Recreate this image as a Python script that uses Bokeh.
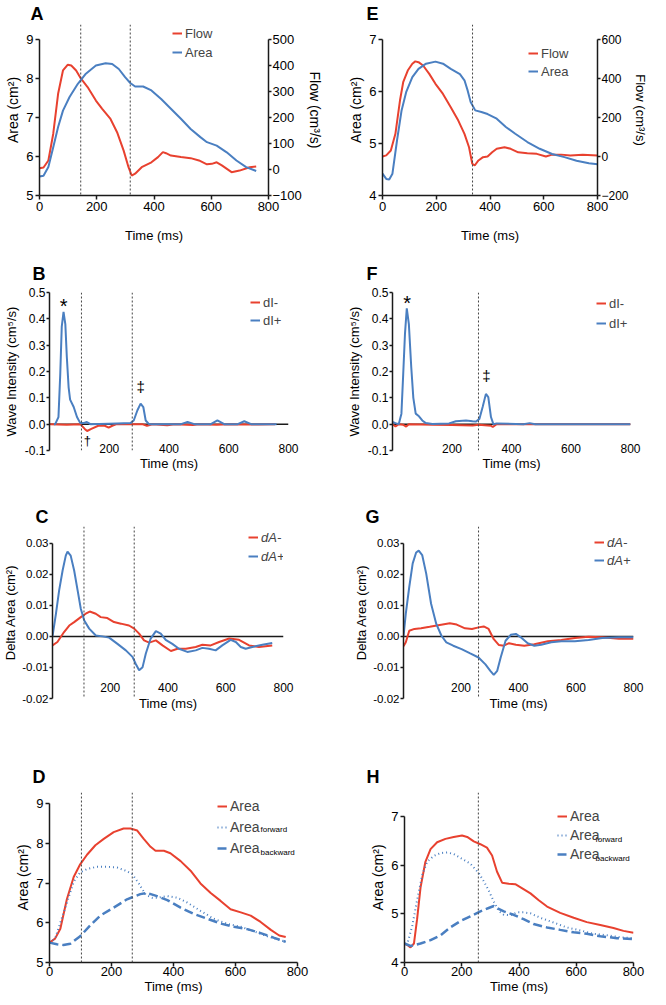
from bokeh.plotting import figure
from bokeh.layouts import column, row
from bokeh.models import (Range1d, LinearAxis, FixedTicker, Span, Legend, LegendItem,
                          Label, NumeralTickFormatter)
from bokeh.embed import file_html
from bokeh.resources import INLINE

RED = "#E8412F"
BLUE = "#4A7FC1"
FONT = "Liberation Sans"
INK = "#1a1a1a"
REF = "#444444"

# ---------------- data ----------------
# Panel A
a_flow_t = [0, 14, 31, 48, 65, 82, 99, 111, 128, 145, 168, 197, 219, 248, 271, 294, 311, 322, 334, 357,
            391, 414, 431, 442, 459, 494, 528, 557, 585, 602, 619, 637, 671, 699, 734, 757]
a_flow = [5, 8, 35, 138, 292, 382, 404, 401, 382, 350, 318, 266, 234, 195, 144, 73, 9, -23, -16, 9,
          28, 48, 67, 63, 54, 48, 44, 35, 20, 22, 28, 16, -10, -4, 9, 12]
a_area_t = [0, 14, 31, 48, 65, 82, 105, 134, 162, 197, 231, 254, 277, 299, 317, 334, 362, 391, 425, 459,
            494, 528, 562, 585, 619, 654, 688, 722, 757]
a_area = [5.49, 5.51, 5.73, 6.24, 6.76, 7.18, 7.53, 7.87, 8.13, 8.34, 8.40, 8.38, 8.25, 8.04, 7.89, 7.80,
          7.80, 7.70, 7.48, 7.23, 6.97, 6.71, 6.50, 6.37, 6.28, 6.11, 5.90, 5.73, 5.63]
a_refs = [144, 317]

# Panel E
e_flow_t = [0, 14, 31, 48, 65, 77, 94, 111, 122, 134, 151, 174, 197, 225, 254, 282, 305, 322, 334, 343,
            357, 374, 391, 408, 425, 454, 477, 505, 539, 574, 608, 631, 665, 699, 745, 800]
e_flow = [0, 6, 31, 117, 288, 382, 442, 477, 489, 485, 468, 425, 374, 322, 254, 185, 117, 48, -37, -46,
          -20, -3, 0, 22, 40, 48, 40, 22, 17, 14, 0, 10, 10, 5, 9, 5]
e_area_t = [0, 14, 25, 37, 54, 71, 88, 111, 134, 162, 197, 225, 254, 288, 305, 317, 328, 345, 368, 391,
            425, 459, 494, 539, 585, 631, 677, 722, 768, 800]
e_area = [4.42, 4.32, 4.31, 4.42, 5.06, 5.64, 5.99, 6.28, 6.44, 6.54, 6.58, 6.54, 6.44, 6.34, 6.22, 6.02,
          5.80, 5.64, 5.61, 5.57, 5.48, 5.32, 5.19, 5.03, 4.90, 4.80, 4.74, 4.67, 4.62, 4.60]
e_refs = [335]

# Panel B
b_plus_t = [15, 19, 30, 36, 41, 47, 53, 58, 64, 69, 81, 92, 103, 114, 125, 137, 226, 271, 282, 294, 305,
            314, 322, 333, 440, 462, 485, 540, 562, 585, 630, 652, 675, 760]
b_plus = [0, 0, 0.027, 0.19, 0.37, 0.426, 0.38, 0.255, 0.14, 0.093, 0.065, 0.027, 0.004, 0.004, 0.008, 0,
          0.003, 0.004, 0.014, 0.052, 0.078, 0.065, 0.014, 0, 0, 0.008, 0, 0, 0.014, 0, 0, 0.011, 0, 0]
b_minus_t = [2, 58, 103, 118, 126, 140, 165, 185, 198, 210, 225, 310, 326, 345, 394, 420, 480, 500, 560,
             600, 700, 755]
b_minus = [0, -0.002, 0, -0.018, -0.026, -0.018, -0.005, -0.006, -0.013, -0.006, 0, 0, -0.006, 0, -0.004,
           0, -0.003, 0, -0.002, 0, -0.001, 0]
b_refs = [107, 277]

# Panel F
f_plus_t = [0, 10, 21, 30, 36, 42, 48, 55, 63, 70, 78, 89, 100, 112, 134, 190, 213, 247, 269, 281, 292,
            303, 314, 322, 331, 339, 350, 440, 461, 480, 800]
f_plus = [0.008, 0.004, 0, 0.04, 0.19, 0.344, 0.44, 0.38, 0.217, 0.10, 0.04, 0.03, 0.014, 0.004, 0.001,
          0.003, 0.011, 0.014, 0.011, 0.010, 0.020, 0.065, 0.115, 0.103, 0.027, 0, 0.003, 0, 0.004, 0, 0]
f_minus_t = [0, 10, 21, 35, 46, 55, 135, 200, 269, 290, 331, 337, 350, 400, 800]
f_minus = [0, -0.009, 0, -0.002, -0.009, 0, -0.002, -0.003, -0.005, -0.002, -0.006, -0.011, 0, 0, 0]
f_refs = [289]

# Panel C
c_plus_t = [0, 12, 23, 35, 46, 52, 63, 75, 87, 98, 110, 127, 150, 173, 196, 225, 254, 277, 288, 300, 312,
            323, 340, 358, 375, 392, 415, 438, 467, 496, 519, 542, 565, 588, 617, 635, 652, 669, 692, 727, 761]
c_plus = [0, .0073, .0148, .0212, .026, .0273, .026, .0212, .0148, .0089, .0051, .0025, .0003, 0, -.0004,
          -.0024, -.0045, -.0066, -.0088, -.0109, -.0099, -.0056, -.0007, .0017, .0009, -.0011, -.0024,
          -.004, -.005, -.0045, -.0037, -.004, -.0045, -.0029, -.0011, -.0018, -.0034, -.004, -.0034,
          -.0027, -.0021]
c_minus_t = [0, 17, 40, 58, 75, 98, 115, 129, 150, 167, 190, 213, 237, 265, 283, 300, 317, 335, 358, 381,
             410, 433, 462, 496, 519, 548, 577, 612, 646, 681, 715, 761]
c_minus = [-.0029, -.0018, .0014, .0035, .0046, .0062, .0073, .008, .0073, .0062, .0059, .0046, .0041,
           .0035, .0025, .0009, -.0013, -.002, -.0013, -.0029, -.0047, -.004, -.004, -.0034, -.0027,
           -.0029, -.0018, -.0007, -.0011, -.0029, -.0034, -.0029]
c_refs = [109, 283]

# Panel G
g_plus_t = [0, 8, 20, 32, 44, 53, 65, 79, 96, 114, 132, 149, 173, 202, 232, 261, 285, 302, 314, 326, 338,
            355, 373, 391, 408, 432, 455, 479, 514, 549, 596, 644, 691, 749, 800]
g_plus = [0, .0073, .0159, .0235, .027, .0276, .0262, .0202, .0105, .004, .0002, -.0019, -.003, -.0041,
          -.0055, -.0068, -.009, -.0111, -.0124, -.0111, -.0068, -.0014, .0005, .0008, -.0003, -.0022,
          -.003, -.0027, -.0019, -.0016, -.0016, -.0012, -.0005, -.0003, -.0003]
g_minus_t = [0, 8, 20, 38, 61, 91, 126, 161, 185, 214, 238, 261, 279, 296, 314, 332, 349, 367, 391, 420,
             455, 502, 549, 596, 644, 691, 749, 800]
g_minus = [-.0032, -.0019, .0018, .0024, .0026, .0031, .0037, .0042, .0038, .0026, .0024, .0029, .0032,
           .0024, -.0009, -.0028, -.003, -.0022, -.0027, -.003, -.0025, -.0016, -.0012, -.0005, -.0001,
           -.0003, -.0008, -.0008]
g_refs = [261]

# Panel D
d_area_t = [0, 18, 35, 56, 78, 99, 121, 148, 175, 207, 239, 261, 283, 304, 326, 342, 369, 390, 423, 455,
            487, 520, 552, 584, 617, 649, 681, 714, 741, 762]
d_area = [5.50, 5.60, 5.85, 6.59, 7.15, 7.47, 7.71, 7.95, 8.11, 8.28, 8.37, 8.37, 8.32, 8.11, 7.91, 7.81,
          7.81, 7.75, 7.55, 7.31, 6.99, 6.75, 6.55, 6.34, 6.26, 6.18, 6.02, 5.82, 5.68, 5.64]
d_fwd_t = [0, 18, 56, 78, 99, 121, 153, 185, 218, 245, 266, 288, 310, 331, 347, 380, 412, 444, 487, 530,
           574, 617, 660, 703, 762]
d_fwd = [5.50, 5.60, 6.50, 7.03, 7.27, 7.35, 7.41, 7.41, 7.39, 7.31, 7.23, 6.99, 6.71, 6.63, 6.63, 6.67,
         6.63, 6.51, 6.30, 6.10, 5.97, 5.90, 5.78, 5.66, 5.52]
d_bwd_t = [0, 24, 45, 67, 99, 132, 164, 207, 250, 293, 315, 347, 380, 423, 466, 509, 552, 595, 638, 681,
           725, 762]
d_bwd = [5.50, 5.46, 5.44, 5.47, 5.66, 5.94, 6.18, 6.38, 6.59, 6.72, 6.75, 6.67, 6.57, 6.38, 6.22, 6.10,
         5.98, 5.90, 5.84, 5.74, 5.62, 5.52]
d_refs = [103, 267]

# Panel H
h_area_t = [0, 12, 21, 33, 44, 56, 73, 91, 114, 143, 172, 201, 219, 242, 265, 288, 306, 323, 341, 364,
            387, 410, 440, 469, 498, 544, 591, 637, 684, 730, 765, 800]
h_area = [4.39, 4.35, 4.31, 4.39, 4.89, 5.54, 6.07, 6.33, 6.47, 6.54, 6.58, 6.61, 6.58, 6.49, 6.43, 6.36,
          6.20, 5.87, 5.64, 5.62, 5.61, 5.53, 5.42, 5.28, 5.15, 5.02, 4.92, 4.83, 4.77, 4.71, 4.65, 4.61]
h_fwd_t = [0, 12, 27, 44, 62, 79, 102, 126, 149, 172, 201, 230, 259, 277, 294, 312, 329, 347, 370, 393,
           416, 440, 474, 521, 567, 614, 660, 707, 753, 800]
h_fwd = [4.39, 4.43, 4.75, 5.28, 5.80, 6.07, 6.19, 6.25, 6.26, 6.23, 6.13, 6.03, 5.84, 5.67, 5.48, 5.25,
         5.06, 4.98, 4.97, 5.03, 5.03, 5.01, 4.92, 4.82, 4.72, 4.66, 4.59, 4.56, 4.52, 4.50]
h_bwd_t = [0, 21, 56, 91, 126, 160, 195, 230, 265, 294, 312, 323, 347, 381, 416, 451, 498, 544, 591, 637,
           684, 742, 800]
h_bwd = [4.39, 4.34, 4.39, 4.46, 4.56, 4.72, 4.85, 4.95, 5.05, 5.12, 5.16, 5.12, 5.05, 4.98, 4.89, 4.79,
         4.72, 4.67, 4.62, 4.59, 4.54, 4.50, 4.48]
h_refs = [258]

x_ticks_full = [0, 200, 400, 600, 800]
x_ticks_nozero = [200, 400, 600, 800]


# ---------------- helpers ----------------
def base_fig(letter, bl, fw, br, bt, fh, bb, y0, y1, t_off, t_stand, t_size="18px"):
    p = figure(width=bl + fw + br, height=bt + fh + bb,
               x_range=Range1d(0, 800), y_range=Range1d(y0, y1),
               output_backend="svg", toolbar_location=None, title=letter,
               min_border_left=bl, min_border_right=br,
               min_border_top=bt, min_border_bottom=bb)
    p.title.align = "left"
    p.title.offset = t_off
    p.title.standoff = t_stand
    p.title.text_font = FONT
    p.title.text_font_size = t_size
    p.title.text_font_style = "bold"
    p.title.text_color = "black"
    p.xgrid.visible = False
    p.ygrid.visible = False
    p.outline_line_color = None
    return p


def style_axis(ax, label, tick_size="13px", label_size="13px", tick_out=4,
               lab_stand=2, axlab_stand=2):
    ax.axis_label = label
    ax.axis_line_color = INK
    ax.axis_line_width = 1.5
    ax.major_tick_line_color = INK
    ax.major_tick_line_width = 1.5
    ax.major_tick_out = tick_out
    ax.major_tick_in = 0
    ax.minor_tick_line_color = None
    ax.major_label_text_font = FONT
    ax.major_label_text_font_size = tick_size
    ax.major_label_text_color = "black"
    ax.axis_label_text_font = FONT
    ax.axis_label_text_font_size = label_size
    ax.axis_label_text_font_style = "normal"
    ax.axis_label_text_color = "black"
    ax.major_label_standoff = lab_stand
    ax.axis_label_standoff = axlab_stand


def zero_axis(p, stand, axlab_stand):
    ax = p.xaxis[0]
    style_axis(ax, "Time (ms)", tick_size="12px", label_size="13px", tick_out=0,
               lab_stand=stand, axlab_stand=axlab_stand)
    ax.axis_line_color = None
    ax.major_tick_line_color = None
    ax.ticker = FixedTicker(ticks=x_ticks_nozero)
    p.add_layout(Span(location=0, dimension="width", line_color=INK, line_width=1.5,
                      level="underlay"))


def add_refs(p, times):
    for t in times:
        p.add_layout(Span(location=t, dimension="height", line_color=REF, line_width=1,
                          line_dash="2 2"))


def add_legend(p, items, x, y, size="13px", spacing=3, gh=16, italic=False):
    leg = Legend(items=[LegendItem(label=l, renderers=[r]) for l, r in items],
                 location=(x, y), orientation="vertical",
                 border_line_color=None, background_fill_alpha=0,
                 padding=0, margin=0, spacing=spacing,
                 glyph_width=10, glyph_height=gh, label_height=gh, label_width=36,
                 label_standoff=3,
                 label_text_font=FONT, label_text_font_size=size,
                 label_text_font_style="italic" if italic else "normal")
    p.add_layout(leg)


def mark(p, x, y, text, size):
    p.add_layout(Label(x=x, y=y, text=text, text_font=FONT, text_font_size=size,
                       text_align="center", text_baseline="middle", text_color="black"))


def sub(p, x, y, text):
    p.add_layout(Label(x=x, y=y, x_units="screen", y_units="screen", text=text,
                       text_font=FONT, text_font_size="8px", text_baseline="middle",
                       text_color="black"))


# ---------------- Panel A ----------------
pA = base_fig("A", 39, 234, 52, 24, 171, 55, 5, 9.393, -9, 2)
pA.extra_y_ranges = {"flow": Range1d(-100, 559)}
style_axis(pA.yaxis[0], "Area (cm²)", label_size="14px")
pA.yaxis[0].ticker = FixedTicker(ticks=[5, 6, 7, 8, 9])
pA.yaxis[0].bounds = (5, 9)
style_axis(pA.xaxis[0], "Time (ms)", axlab_stand=14)
pA.xaxis[0].ticker = FixedTicker(ticks=x_ticks_full)
axA = LinearAxis(y_range_name="flow")
style_axis(axA, "Flow (cm³/s)", label_size="14px", tick_out=3, lab_stand=1, axlab_stand=2)
axA.ticker = FixedTicker(ticks=[-100, 0, 100, 200, 300, 400, 500])
axA.bounds = (-100, 500)
pA.add_layout(axA, "right")
add_refs(pA, a_refs)
rA1 = pA.line(a_flow_t, a_flow, y_range_name="flow", line_color=RED, line_width=2)
rA2 = pA.line(a_area_t, a_area, line_color=BLUE, line_width=2)
add_legend(pA, [("Flow", rA1), ("Area", rA2)], 133, 135)

# ---------------- Panel E ----------------
pE = base_fig("E", 57, 224, 44, 24, 171, 55, 4, 7.295, -16, 2)
pE.extra_y_ranges = {"flow": Range1d(-200, 678.6)}
style_axis(pE.yaxis[0], "Area (cm²)", label_size="14px")
pE.yaxis[0].ticker = FixedTicker(ticks=[4, 5, 6, 7])
pE.yaxis[0].bounds = (4, 7)
style_axis(pE.xaxis[0], "Time (ms)", axlab_stand=14)
pE.xaxis[0].ticker = FixedTicker(ticks=x_ticks_full)
axE = LinearAxis(y_range_name="flow")
style_axis(axE, "Flow (cm³/s)", tick_size="12px", label_size="13px", tick_out=3,
           lab_stand=1, axlab_stand=1)
axE.ticker = FixedTicker(ticks=[-200, 0, 200, 400, 600])
axE.bounds = (-200, 600)
pE.add_layout(axE, "right")
add_refs(pE, e_refs)
rE1 = pE.line(e_flow_t, e_flow, y_range_name="flow", line_color=RED, line_width=2)
rE2 = pE.line(e_area_t, e_area, line_color=BLUE, line_width=2)
add_legend(pE, [("Flow", rE1), ("Area", rE2)], 146, 116, spacing=2)

# ---------------- Panel B ----------------
pB = base_fig("B", 49, 239, 37, 42, 158, 38, -0.1, 0.5, -17, 18)
style_axis(pB.yaxis[0], "Wave Intensity (cm⁵/s)", tick_size="12px", label_size="13px",
           tick_out=3, lab_stand=1, axlab_stand=3)
pB.yaxis[0].ticker = FixedTicker(ticks=[-0.1, 0, 0.1, 0.2, 0.3, 0.4, 0.5])
pB.yaxis[0].formatter = NumeralTickFormatter(format="0.0")
zero_axis(pB, -7, 0)
add_refs(pB, b_refs)
rB1 = pB.line(b_minus_t, b_minus, line_color=RED, line_width=2)
rB2 = pB.line(b_plus_t, b_plus, line_color=BLUE, line_width=2)
add_legend(pB, [("dI-", rB1), ("dI+", rB2)], 201, 122, spacing=2)
mark(pB, 47, 0.448, "*", "20px")
mark(pB, 305, 0.142, "‡", "15px")
mark(pB, 127, -0.062, "†", "13px")

# ---------------- Panel F ----------------
pF = base_fig("F", 67, 238, 20, 42, 158, 38, -0.1, 0.5, -26, 18)
style_axis(pF.yaxis[0], "Wave Intensity (cm⁵/s)", tick_size="12px", label_size="13px",
           tick_out=3, lab_stand=1, axlab_stand=3)
pF.yaxis[0].ticker = FixedTicker(ticks=[-0.1, 0, 0.1, 0.2, 0.3, 0.4, 0.5])
pF.yaxis[0].formatter = NumeralTickFormatter(format="0.0")
zero_axis(pF, -7, 0)
add_refs(pF, f_refs)
rF1 = pF.line(f_minus_t, f_minus, line_color=RED, line_width=2)
rF2 = pF.line(f_plus_t, f_plus, line_color=BLUE, line_width=2)
add_legend(pF, [("dI-", rF1), ("dI+", rF2)], 204, 119, spacing=4)
mark(pF, 49, 0.462, "*", "20px")
mark(pF, 316, 0.186, "‡", "15px")

# ---------------- Panel C ----------------
pC = base_fig("C", 49, 234, 42, 38, 172, 32, -0.02, 0.03538, -17, 0)
style_axis(pC.yaxis[0], "Delta Area (cm²)", tick_size="11.5px", label_size="13px",
           tick_out=3, lab_stand=1, axlab_stand=1)
pC.yaxis[0].ticker = FixedTicker(ticks=[-0.02, -0.01, 0, 0.01, 0.02, 0.03])
pC.yaxis[0].formatter = NumeralTickFormatter(format="0.00")
pC.yaxis[0].bounds = (-0.02, 0.03)
zero_axis(pC, -16, 1)
add_refs(pC, c_refs)
rC1 = pC.line(c_minus_t, c_minus, line_color=RED, line_width=2)
rC2 = pC.line(c_plus_t, c_plus, line_color=BLUE, line_width=2)
add_legend(pC, [("dA-", rC1), ("dA+", rC2)], 196, 133, spacing=1, gh=18, italic=True)

# ---------------- Panel G ----------------
pG = base_fig("G", 78, 230, 17, 38, 172, 32, -0.02, 0.03538, -38, 0)
style_axis(pG.yaxis[0], "Delta Area (cm²)", tick_size="11.5px", label_size="13px",
           tick_out=3, lab_stand=1, axlab_stand=1)
pG.yaxis[0].ticker = FixedTicker(ticks=[-0.02, -0.01, 0, 0.01, 0.02, 0.03])
pG.yaxis[0].formatter = NumeralTickFormatter(format="0.00")
pG.yaxis[0].bounds = (-0.02, 0.03)
zero_axis(pG, -16, 1)
add_refs(pG, g_refs)
rG1 = pG.line(g_minus_t, g_minus, line_color=RED, line_width=2)
rG2 = pG.line(g_plus_t, g_plus, line_color=BLUE, line_width=2)
add_legend(pG, [("dA-", rG1), ("dA+", rG2)], 191, 129, spacing=0, gh=18, italic=True)

# ---------------- Panel D ----------------
pD = base_fig("D", 49, 248, 28, 62, 170, 35, 5, 9.277, -17, 11)
style_axis(pD.yaxis[0], "Area (cm²)", label_size="14px")
pD.yaxis[0].ticker = FixedTicker(ticks=[5, 6, 7, 8, 9])
pD.yaxis[0].bounds = (5, 9)
style_axis(pD.xaxis[0], "Time (ms)", lab_stand=0, axlab_stand=0)
pD.xaxis[0].ticker = FixedTicker(ticks=x_ticks_full)
add_refs(pD, d_refs)
rD1 = pD.line(d_area_t, d_area, line_color=RED, line_width=2)
rD2 = pD.line(d_fwd_t, d_fwd, line_color=BLUE, line_width=2, line_dash="1 3")
rD3 = pD.line(d_bwd_t, d_bwd, line_color=BLUE, line_width=2.5, line_dash="9 4")
add_legend(pD, [("Area", rD1), ("Area", rD2), ("Area", rD3)], 168, 105, size="14px", gh=18)
sub(pD, 211, 133, "forward")
sub(pD, 211, 110, "backward")

# ---------------- Panel H ----------------
pH = base_fig("H", 79, 229, 17, 62, 170, 35, 4, 7.493, -38, 11)
style_axis(pH.yaxis[0], "Area (cm²)", label_size="14px")
pH.yaxis[0].ticker = FixedTicker(ticks=[4, 5, 6, 7])
pH.yaxis[0].bounds = (4, 7)
style_axis(pH.xaxis[0], "Time (ms)", lab_stand=0, axlab_stand=0)
pH.xaxis[0].ticker = FixedTicker(ticks=x_ticks_full)
add_refs(pH, h_refs)
rH1 = pH.line(h_area_t, h_area, line_color=RED, line_width=2)
rH2 = pH.line(h_fwd_t, h_fwd, line_color=BLUE, line_width=2, line_dash="1 3")
rH3 = pH.line(h_bwd_t, h_bwd, line_color=BLUE, line_width=2.5, line_dash="9 4")
add_legend(pH, [("Area", rH1), ("Area", rH2), ("Area", rH3)], 153, 100, size="14px")
sub(pH, 191, 123, "forward")
sub(pH, 191, 104, "backward")

layout = column(row(pA, pE), row(pB, pF), row(pC, pG), row(pD, pH))

with open("out.html", "w") as f:
    f.write(file_html(layout, INLINE))
